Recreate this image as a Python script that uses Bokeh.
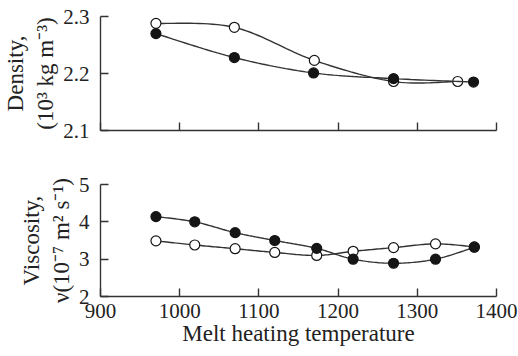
import numpy as np
from bokeh.plotting import figure
from bokeh.layouts import column
from bokeh.models import FixedTicker, Range1d
from bokeh.embed import file_html
from bokeh.resources import INLINE

# ---- data ----
dens_filled_t = [970, 1069, 1169, 1270, 1371]
dens_filled_v = [2.270, 2.228, 2.201, 2.191, 2.185]
dens_open_t = [970, 1069, 1170, 1270, 1351]
dens_open_v = [2.288, 2.281, 2.223, 2.186, 2.186]

visc_filled_t = [970, 1019, 1070, 1120, 1173, 1219, 1270, 1323, 1372]
visc_filled_v = [4.14, 4.00, 3.71, 3.50, 3.29, 3.00, 2.89, 3.00, 3.32]
visc_open_t = [970, 1019, 1070, 1120, 1173, 1219, 1270, 1323, 1372]
visc_open_v = [3.49, 3.38, 3.28, 3.18, 3.10, 3.21, 3.31, 3.41, 3.33]

x_ticks = [900, 1000, 1100, 1200, 1300, 1400]
dens_ticks = [2.1, 2.2, 2.3]
visc_ticks = [2, 3, 4, 5]

FONT = "Liberation Serif"
LINE = "#333333"
DOT = "#151515"


def smooth(xs, ys, xr, yr, n=20):
    # Catmull-Rom curve through the points (drawing aid only), normalized by ranges
    x = np.asarray(xs, float) / xr
    y = np.asarray(ys, float) / yr
    P = np.column_stack([x, y])
    P = np.vstack([P[0], P, P[-1]])
    out = []
    for i in range(1, len(P) - 2):
        p0, p1, p2, p3 = P[i - 1], P[i], P[i + 1], P[i + 2]
        for t in np.linspace(0, 1, n, endpoint=False):
            t2, t3 = t * t, t * t * t
            pt = 0.5 * ((2 * p1) + (-p0 + p2) * t + (2 * p0 - 5 * p1 + 4 * p2 - p3) * t2
                        + (-p0 + 3 * p1 - 3 * p2 + p3) * t3)
            out.append(pt)
    out.append(P[-2])
    out = np.array(out)
    return out[:, 0] * xr, out[:, 1] * yr


def style(p, yticks):
    p.xgrid.grid_line_color = None
    p.ygrid.grid_line_color = None
    p.outline_line_color = None
    for ax in (p.xaxis[0], p.yaxis[0]):
        ax.major_tick_in = 8
        ax.major_tick_out = 0
        ax.minor_tick_in = 0
        ax.minor_tick_out = 0
        ax.axis_line_color = LINE
        ax.axis_line_width = 1.4
        ax.major_tick_line_color = LINE
        ax.major_tick_line_width = 1.4
        ax.major_label_text_font = FONT
        ax.major_label_text_font_size = "21px"
        ax.major_label_text_color = "#222222"
        ax.axis_label_text_font = FONT
        ax.axis_label_text_font_size = "23px"
        ax.axis_label_text_font_style = "normal"
        ax.axis_label_text_color = "#222222"
    p.xaxis[0].ticker = FixedTicker(ticks=x_ticks)
    p.yaxis[0].ticker = FixedTicker(ticks=yticks)
    p.yaxis[0].major_label_standoff = 11
    p.yaxis[0].axis_label_standoff = 2


# ---- top: density ----
p1 = figure(width=518, height=160, output_backend="svg", toolbar_location=None,
            x_range=Range1d(900, 1400), y_range=Range1d(2.1, 2.3),
            min_border_left=100, min_border_right=22, min_border_top=16, min_border_bottom=30)
style(p1, dens_ticks)
p1.xaxis[0].major_label_overrides = {t: "" for t in x_ticks}
p1.xaxis[0].major_label_standoff = 0
p1.yaxis[0].axis_label = "Density,\n(10³ kg m⁻³)"

for tx, vy, fill in [(dens_open_t, dens_open_v, "white"), (dens_filled_t, dens_filled_v, DOT)]:
    sx, sy = smooth(tx, vy, 500.0, 0.2)
    p1.line(sx, sy, line_color=LINE, line_width=1.4)
    p1.scatter(tx, vy, size=10, fill_color=fill, line_color=DOT, line_width=1.2)

# ---- bottom: viscosity ----
p2 = figure(width=518, height=196, output_backend="svg", toolbar_location=None,
            x_range=Range1d(900, 1400), y_range=Range1d(2, 5),
            min_border_left=100, min_border_right=22, min_border_top=24, min_border_bottom=60)
style(p2, visc_ticks)
p2.xaxis[0].major_label_standoff = 7
p2.xaxis[0].axis_label_standoff = 0
p2.xaxis[0].axis_label = "Melt heating temperature"
p2.yaxis[0].axis_label = "Viscosity,\nν(10⁻⁷ m² s⁻¹)"

for tx, vy, fill in [(visc_open_t, visc_open_v, "white"), (visc_filled_t, visc_filled_v, DOT)]:
    sx, sy = smooth(tx, vy, 500.0, 3.0)
    p2.line(sx, sy, line_color=LINE, line_width=1.4)
    p2.scatter(tx, vy, size=10, fill_color=fill, line_color=DOT, line_width=1.2)

layout = column(p1, p2, spacing=0)
open("out.html", "w").write(file_html(layout, INLINE))
